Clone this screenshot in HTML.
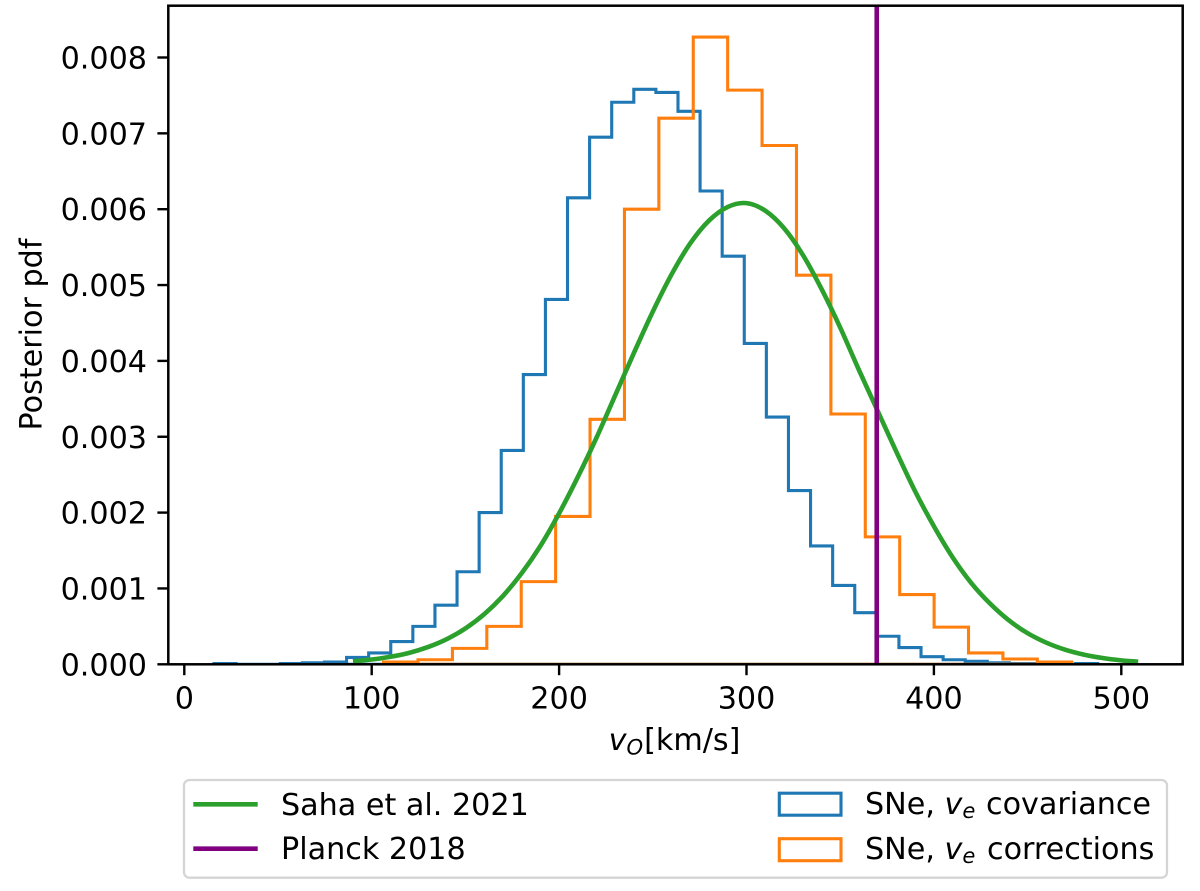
<!DOCTYPE html>
<html>
<head>
<meta charset="utf-8">
<style>
html,body{margin:0;padding:0;background:#fff;width:1200px;height:891px;overflow:hidden}
svg{display:block}
text{font-family:"DejaVu Sans","Liberation Sans",sans-serif;font-size:30.2px;fill:#000}
.m{font-style:italic}
.s{font-style:italic;font-size:21.1px}
</style>
</head>
<body>
<svg id="chart" width="1200" height="891" viewBox="0 0 1200 891" xmlns="http://www.w3.org/2000/svg">
  <defs><clipPath id="plot-clip"><rect x="168.3" y="5.7" width="1014.4" height="658.6"/></clipPath></defs>
  <rect x="168.3" y="5.7" width="1014.4" height="658.6" fill="#fff"/>
  <g id="marks" clip-path="url(#plot-clip)"></g>
  <g id="xticks"></g>
  <g id="yticks"></g>
  <rect x="168.3" y="5.7" width="1014.4" height="658.6" fill="none" stroke="#000" stroke-width="2.5"/>
  <text x="674.5" y="750" text-anchor="middle"><tspan class="m">v</tspan><tspan class="s" dy="4.5">O</tspan><tspan dy="-4.5" dx="1">[km/s]</tspan></text>
  <text transform="translate(41.7,334.5) rotate(-90)" text-anchor="middle">Posterior pdf</text>
  <g>
    <rect x="184" y="780" width="983" height="97.7" rx="5.5" ry="5.5" fill="#fff" stroke="#d5d5d5" stroke-width="2.3"/>
    <line x1="193.3" y1="804.3" x2="257.7" y2="804.3" stroke="#2ca02c" stroke-width="4.6"/>
    <text x="281" y="815">Saha et al. 2021</text>
    <line x1="193.3" y1="848.7" x2="257.7" y2="848.7" stroke="#800080" stroke-width="4.6"/>
    <text x="281" y="859">Planck 2018</text>
    <rect x="779.3" y="793.2" width="61.7" height="22" fill="none" stroke="#1f77b4" stroke-width="3.1"/>
    <text x="865" y="814">SNe, <tspan class="m">v</tspan><tspan class="s" dy="4">e</tspan><tspan dy="-4" dx="1"> covariance</tspan></text>
    <rect x="779.3" y="838.7" width="61.7" height="22" fill="none" stroke="#ff7f0e" stroke-width="3.1"/>
    <text x="865" y="859">SNe, <tspan class="m">v</tspan><tspan class="s" dy="4">e</tspan><tspan dy="-4" dx="2"> corrections</tspan></text>
  </g>
</svg>
<script>
// ---- data ----
const xTickValues = [0, 100, 200, 300, 400, 500];
const yTickValues = [0, 0.001, 0.002, 0.003, 0.004, 0.005, 0.006, 0.007, 0.008];
const yTickLabels = ["0.000", "0.001", "0.002", "0.003", "0.004", "0.005", "0.006", "0.007", "0.008"];
const blueBinStart = 15.85;
const blueBinWidth = 11.79;
const blueValues = [0.00001, 0, 0, 0.00001, 0.00002, 0.00003, 0.00009, 0.00015, 0.0003, 0.0005,
  0.00078, 0.00122, 0.002, 0.00282, 0.00382, 0.00481, 0.00615, 0.00695, 0.00741, 0.00758,
  0.00754, 0.00729, 0.00624, 0.00538, 0.00423, 0.00326, 0.00229, 0.00156, 0.00104, 0.00068,
  0.00037, 0.00022, 0.0001, 0.00006, 0.00004, 0.00002, 0.00001, 0.00001, 0, 0.00001];
const orangeBinStart = 106.35;
const orangeBinWidth = 18.36;
const orangeValues = [0.00003, 0.00006, 0.00021, 0.0005, 0.00109, 0.00195, 0.00323, 0.006, 0.0072, 0.00827,
  0.00757, 0.00684, 0.00513, 0.0033, 0.00168, 0.00092, 0.00049, 0.00015, 0.00007, 0.00003];
const greenV = [90, 100, 110, 120, 130, 140, 150, 160, 170, 180, 190, 200, 210, 220, 230, 240, 250, 260, 270, 280, 290, 300,
  310, 320, 330, 340, 350, 360, 370, 380, 390, 400, 410, 420, 430, 440, 450, 460, 470, 480, 490, 500, 509];
const greenPdf = [0.000039, 0.000063, 0.000099, 0.000151, 0.000227, 0.000331, 0.000473, 0.00066, 0.0009, 0.0012, 0.00156, 0.00199,
  0.00247, 0.00299, 0.00355, 0.00411, 0.00465, 0.00514, 0.00555, 0.00585, 0.00603, 0.00608,
  0.00598, 0.00575, 0.0054, 0.00495, 0.00444, 0.00388, 0.00334, 0.0028, 0.00228, 0.00182, 0.00141, 0.00107,
  0.0008, 0.00058, 0.00041, 0.000285, 0.000193, 0.000128, 0.000083, 0.000052, 0.000034];
const planckV = 369.5;

// ---- axis functions ----
const xScale = v => 184.3 + 1.874 * v;
const yScale = p => 664.3 - 75850 * p;
const NS = "http://www.w3.org/2000/svg";
const marks = document.getElementById("marks");
const xticks = document.getElementById("xticks");
const yticks = document.getElementById("yticks");

function histPath(start, width, values) {
  let d = "M" + xScale(start).toFixed(2) + " " + yScale(0).toFixed(2);
  values.forEach(function (val, i) {
    const x0 = xScale(start + i * width).toFixed(2);
    const x1 = xScale(start + (i + 1) * width).toFixed(2);
    const y = yScale(val).toFixed(2);
    d += "L" + x0 + " " + y + "L" + x1 + " " + y;
  });
  d += "L" + xScale(start + values.length * width).toFixed(2) + " " + yScale(0).toFixed(2) + "Z";
  return d;
}

const bluePath = document.createElementNS(NS, "path");
bluePath.setAttribute("d", histPath(blueBinStart, blueBinWidth, blueValues));
bluePath.setAttribute("fill", "none");
bluePath.setAttribute("stroke", "#1f77b4");
bluePath.setAttribute("stroke-width", "3.1");
bluePath.setAttribute("stroke-linejoin", "miter");


marks.appendChild(bluePath);

const orangePath = document.createElementNS(NS, "path");
orangePath.setAttribute("d", histPath(orangeBinStart, orangeBinWidth, orangeValues));
orangePath.setAttribute("fill", "none");
orangePath.setAttribute("stroke", "#ff7f0e");
orangePath.setAttribute("stroke-width", "3.1");
orangePath.setAttribute("stroke-linejoin", "miter");


marks.appendChild(orangePath);

// smooth curve through the read points (Catmull-Rom to Bezier)
function smoothPath(xs, ys) {
  const pts = xs.map(function (v, i) { return [xScale(v), yScale(ys[i])]; });
  let d = "M" + pts[0][0].toFixed(2) + " " + pts[0][1].toFixed(2);
  for (let i = 0; i < pts.length - 1; i++) {
    const p0 = pts[Math.max(i - 1, 0)], p1 = pts[i], p2 = pts[i + 1], p3 = pts[Math.min(i + 2, pts.length - 1)];
    const c1x = p1[0] + (p2[0] - p0[0]) / 6, c1y = p1[1] + (p2[1] - p0[1]) / 6;
    const c2x = p2[0] - (p3[0] - p1[0]) / 6, c2y = p2[1] - (p3[1] - p1[1]) / 6;
    d += "C" + c1x.toFixed(2) + " " + c1y.toFixed(2) + " " + c2x.toFixed(2) + " " + c2y.toFixed(2) + " " + p2[0].toFixed(2) + " " + p2[1].toFixed(2);
  }
  return d;
}

const greenCurve = document.createElementNS(NS, "path");
greenCurve.setAttribute("d", smoothPath(greenV, greenPdf));
greenCurve.setAttribute("fill", "none");
greenCurve.setAttribute("stroke", "#2ca02c");
greenCurve.setAttribute("stroke-width", "4.6");


marks.appendChild(greenCurve);

const planckLine = document.createElementNS(NS, "line");
planckLine.setAttribute("x1", xScale(planckV));
planckLine.setAttribute("x2", xScale(planckV));
planckLine.setAttribute("y1", 5.7);
planckLine.setAttribute("y2", 664.3);
planckLine.setAttribute("stroke", "#800080");
planckLine.setAttribute("stroke-width", "4.6");


marks.appendChild(planckLine);

xTickValues.forEach(function (v) {
  const tick = document.createElementNS(NS, "line");
  tick.setAttribute("x1", xScale(v));
  tick.setAttribute("x2", xScale(v));
  tick.setAttribute("y1", 664.3);
  tick.setAttribute("y2", 675.2);
  tick.setAttribute("stroke", "#000");
  tick.setAttribute("stroke-width", "2.4");
  
  
  xticks.appendChild(tick);
  const label = document.createElementNS(NS, "text");
  label.setAttribute("x", xScale(v));
  label.setAttribute("y", 708.5);
  label.setAttribute("text-anchor", "middle");
  label.textContent = String(v);
  
  
  xticks.appendChild(label);
});

yTickValues.forEach(function (v, i) {
  const tick = document.createElementNS(NS, "line");
  tick.setAttribute("x1", 157.4);
  tick.setAttribute("x2", 168.3);
  tick.setAttribute("y1", yScale(v));
  tick.setAttribute("y2", yScale(v));
  tick.setAttribute("stroke", "#000");
  tick.setAttribute("stroke-width", "2.4");
  
  
  yticks.appendChild(tick);
  const label = document.createElementNS(NS, "text");
  label.setAttribute("x", 147);
  label.setAttribute("y", yScale(v) + 11);
  label.setAttribute("text-anchor", "end");
  label.textContent = yTickLabels[i];
  
  
  yticks.appendChild(label);
});
</script>
</body>
</html>
